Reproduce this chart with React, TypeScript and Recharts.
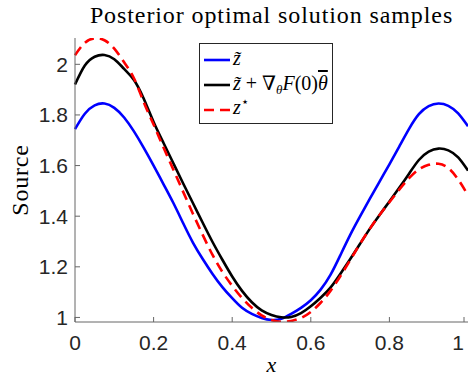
import { CartesianGrid, Legend, Line, LineChart, XAxis, YAxis } from 'recharts'

const xValues = [
  0, 0.025, 0.05, 0.075, 0.1, 0.125, 0.15, 0.175, 0.2, 0.225, 0.25, 0.275, 0.3, 0.325, 0.35, 0.375, 0.4,
  0.425, 0.45, 0.475, 0.5, 0.525, 0.55, 0.575, 0.6, 0.625, 0.65, 0.675, 0.7, 0.725, 0.75, 0.775, 0.8,
  0.825, 0.85, 0.875, 0.9, 0.925, 0.95, 0.975, 1,
]

// z tilde (blue)
const zTilde = [
  1.744, 1.805, 1.838, 1.845, 1.828, 1.79, 1.735, 1.67, 1.6, 1.527, 1.453, 1.373, 1.296, 1.231, 1.172,
  1.12, 1.076, 1.038, 1.014, 0.998, 0.99, 0.995, 1.014, 1.038, 1.068, 1.11, 1.168, 1.245, 1.325, 1.398,
  1.468, 1.537, 1.605, 1.675, 1.745, 1.803, 1.835, 1.845, 1.836, 1.806, 1.755,
]

// z tilde + grad F(0) theta bar (black)
const zLinear = [
  1.92, 1.995, 2.03, 2.037, 2.02, 1.982, 1.938, 1.864, 1.772, 1.69, 1.61, 1.53, 1.452, 1.374, 1.298,
  1.228, 1.162, 1.105, 1.06, 1.028, 1.01, 1.001, 1.002, 1.017, 1.044, 1.078, 1.118, 1.172, 1.23, 1.29,
  1.35, 1.405, 1.458, 1.512, 1.568, 1.622, 1.655, 1.667, 1.66, 1.632, 1.58,
]

// z star (red dashed)
const zStar = [
  2.036, 2.085, 2.103, 2.095, 2.062, 2.008, 1.945, 1.85, 1.762, 1.672, 1.585, 1.497, 1.41, 1.326, 1.247,
  1.18, 1.125, 1.077, 1.038, 1.008, 0.99, 0.983, 0.986, 0.998, 1.022, 1.058, 1.105, 1.163, 1.226, 1.29,
  1.35, 1.405, 1.455, 1.505, 1.55, 1.585, 1.603, 1.607, 1.59, 1.545, 1.483,
]

const xTicks = [0, 0.2, 0.4, 0.6, 0.8, 1]
const yTicks = [1, 1.2, 1.4, 1.6, 1.8, 2]

const data = xValues.map((x, i) => ({ x, zTilde: zTilde[i], zLinear: zLinear[i], zStar: zStar[i] }))

const AXIS = '#262626'
const SANS = '"Liberation Sans", Arial, sans-serif'
const SERIF = '"Liberation Serif", "DejaVu Serif", "Times New Roman", serif'

const XTick = ({ x, y, payload }: any) => {
  // last label sits on the right edge; keep it inside the picture
  const last = payload.value === 1
  return (
    <g>
      <line x1={x} y1={y} x2={x} y2={y - 5} stroke="#666" />
      <text x={x} y={y + 27.5} textAnchor={last ? 'end' : 'middle'} fontSize={21} fill={AXIS} fontFamily={SANS}>
        {String(payload.value)}
      </text>
    </g>
  )
}

const YTick = ({ x, y, payload }: any) => (
  <g>
    <line x1={x} y1={y} x2={x + 5} y2={y} stroke="#666" />
    <text x={x - 7} y={y + 7.5} textAnchor="end" fontSize={21} fill={AXIS} fontFamily={SANS}>
      {String(payload.value)}
    </text>
  </g>
)

const Sample = ({ color, dash }: { color: string; dash?: string }) => (
  <svg width={28} height={10} style={{ verticalAlign: 'middle', marginRight: 2 }}>
    <line x1={1} y1={5} x2={27} y2={5} stroke={color} strokeWidth={2.6} strokeDasharray={dash} />
  </svg>
)

const LegendBox = () => (
  <div
    style={{
      border: '1px solid #262626',
      background: '#fff',
      padding: '2px 4px 3px 3px',
      fontFamily: SERIF,
      fontSize: 20,
      lineHeight: '24.7px',
      color: '#000',
      whiteSpace: 'nowrap',
    }}
  >
    <div>
      <Sample color="#0000ff" />
      <i>z̃</i>
    </div>
    <div>
      <Sample color="#000000" />
      <i>z̃</i> + ∇<sub style={{ fontSize: 13, verticalAlign: '-4px', lineHeight: 0 }}><i>θ</i></sub>
      <i>F</i>(0)<span style={{ textDecoration: 'overline' }}><i>θ</i></span>
    </div>
    <div>
      <Sample color="#ff0000" dash="10 6" />
      <i>z</i>
      <sup style={{ fontSize: 13, verticalAlign: '8px', lineHeight: 0 }}>⋆</sup>
    </div>
  </div>
)

export default function App() {
  return (
    <div style={{ position: 'absolute', left: 0, top: 0, width: 468, height: 378, background: '#fff', overflow: 'hidden' }}>
      <div
        style={{
          position: 'absolute',
          left: 60,
          width: 423,
          top: 3,
          textAlign: 'center',
          fontFamily: SERIF,
          fontSize: 24,
          lineHeight: '24px',
          letterSpacing: 0.9,
          color: '#000',
          whiteSpace: 'nowrap',
        }}
      >
        Posterior optimal solution samples
      </div>
      <LineChart width={468} height={378} data={data} margin={{ top: 38, right: 0, bottom: 0, left: 0 }}>
        <CartesianGrid horizontal={false} vertical={false} />
        <XAxis
          dataKey="x"
          type="number"
          domain={[0, 1]}
          ticks={xTicks}
          height={56}
          tickSize={0}
          tickMargin={0}
          tickLine={false}
          axisLine={{ stroke: '#666', strokeWidth: 1 }}
          tick={<XTick />}
          label={{
            content: () => (
              <text x={271.5} y={372} textAnchor="middle" fontSize={22} fontStyle="italic" fontFamily={SERIF} fill="#000">
                x
              </text>
            ),
          }}
        />
        <YAxis
          type="number"
          domain={[0.982, 2.104]}
          allowDataOverflow
          ticks={yTicks}
          width={75}
          tickSize={0}
          tickMargin={0}
          tickLine={false}
          axisLine={{ stroke: '#666', strokeWidth: 1 }}
          tick={<YTick />}
          label={{
            content: () => (
              <text x={28} y={180} transform="rotate(-90 28 180)" textAnchor="middle" fontSize={24} letterSpacing={0.8} fontFamily={SERIF} fill="#000">
                Source
              </text>
            ),
          }}
        />
        <Legend
          layout="vertical"
          align="center"
          verticalAlign="middle"
          content={<LegendBox />}
          wrapperStyle={{ left: 199, top: 43, width: 'auto', height: 'auto' }}
        />
        <Line type="natural" dataKey="zTilde" stroke="#0000ff" strokeWidth={2.6} dot={false} isAnimationActive={false} />
        <Line type="natural" dataKey="zLinear" stroke="#000000" strokeWidth={2.6} dot={false} isAnimationActive={false} />
        <Line
          type="natural"
          dataKey="zStar"
          stroke="#ff0000"
          strokeWidth={2.6}
          strokeDasharray="10 6"
          dot={false}
          isAnimationActive={false}
        />
      </LineChart>
    </div>
  )
}
